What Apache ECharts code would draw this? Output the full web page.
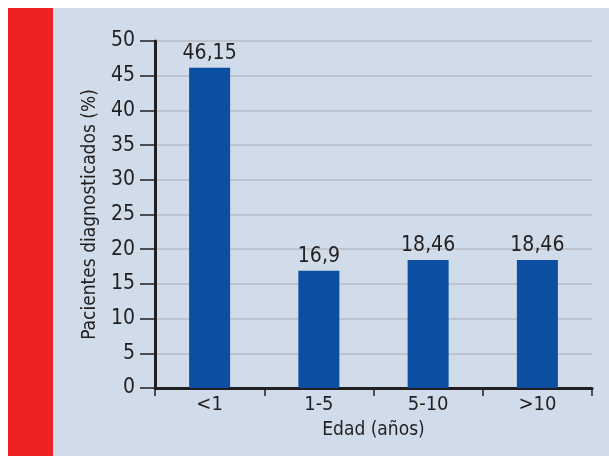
<!DOCTYPE html>
<html><head><meta charset="utf-8">
<script src="https://cdn.jsdelivr.net/npm/echarts@6/dist/echarts.min.js"></script>
<style>html,body{margin:0;padding:0;background:#fff}#c{width:609px;height:456px}</style>
</head><body><div id="c"></div>
<script>
const categories = ['<1', '1-5', '5-10', '>10'];
const values = [46.15, 16.9, 18.46, 18.46];
const valueLabels = ['46,15', '16,9', '18,46', '18,46'];
const yTicks = [0, 5, 10, 15, 20, 25, 30, 35, 40, 45, 50];

const FONT = '"DejaVu Sans Condensed", "Liberation Sans", sans-serif';
const chart = echarts.init(document.getElementById('c'), null, {renderer: 'canvas'});
chart.setOption({
  animation: false,
  backgroundColor: '#ffffff',
  graphic: [
    {type: 'rect', shape: {x: 53, y: 8, width: 556, height: 448}, style: {fill: '#d0dce9'}, z: -10},
    {type: 'rect', shape: {x: 8, y: 8, width: 45, height: 448}, style: {fill: '#ee2224'}, z: -10}
  ],
  grid: {left: 155, right: 17, top: 41, bottom: 68, containLabel: false},
  xAxis: {
    type: 'category',
    data: categories,
    name: 'Edad (años)',
    nameLocation: 'middle',
    nameGap: 33,
    nameTextStyle: {fontFamily: FONT, fontSize: 19, color: '#231f20'},
    axisLine: {lineStyle: {color: '#231f20', width: 3}},
    axisTick: {show: true, length: 8, lineStyle: {color: '#231f20', width: 1.5}},
    axisLabel: {fontFamily: FONT, fontSize: 20, color: '#231f20', margin: 7}
  },
  yAxis: {
    type: 'value',
    min: yTicks[0],
    max: yTicks[yTicks.length - 1],
    interval: 5,
    name: 'Pacientes diagnosticados (%)',
    nameLocation: 'middle',
    nameGap: 55,
    nameTextStyle: {fontFamily: FONT, fontSize: 19, color: '#231f20'},
    axisLine: {show: true, lineStyle: {color: '#231f20', width: 3}},
    axisTick: {show: true, length: 15, lineStyle: {color: '#231f20', width: 1.5}},
    axisLabel: {fontFamily: FONT, fontSize: 21, color: '#231f20', margin: 20},
    splitLine: {show: true, lineStyle: {color: '#b8bcc3', width: 1.5}}
  },
  series: [{
    type: 'bar',
    data: values,
    barWidth: 41,
    itemStyle: {color: '#0b4ea2'},
    label: {
      show: true,
      position: 'top',
      distance: 4,
      fontFamily: FONT,
      fontSize: 21,
      color: '#231f20',
      formatter: p => valueLabels[p.dataIndex]
    }
  }]
});
</script></body></html>
